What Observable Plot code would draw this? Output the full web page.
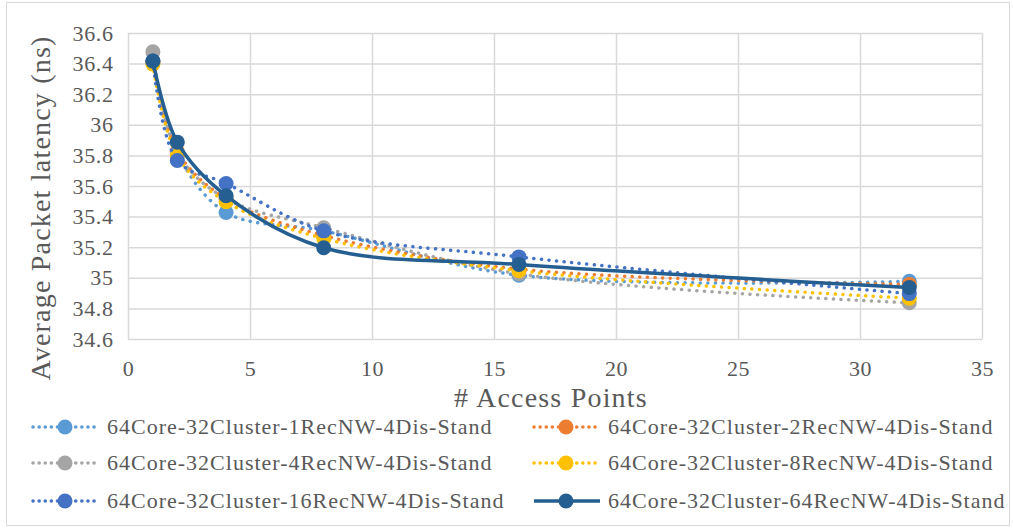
<!DOCTYPE html>
<html><head><meta charset="utf-8">
<script src="https://cdn.jsdelivr.net/npm/d3@7"></script>
<script src="https://cdn.jsdelivr.net/npm/@observablehq/plot@0.6"></script>
<style>
body{margin:0;background:#fff;}
#wrap{position:relative;width:1013px;height:529px;overflow:hidden;font-family:'Liberation Serif','Times New Roman',Times,'DejaVu Serif',serif;color:#595959;background:#fff;}
#wrap svg text{font-family:'Liberation Serif','Times New Roman',Times,'DejaVu Serif',serif;}
#chart svg text{letter-spacing:0.6px;}
#frame{position:absolute;left:6px;top:2px;width:1004px;height:524px;border:1px solid #d9d9d9;box-sizing:border-box;pointer-events:none}
#chart{position:absolute;left:0;top:0;}
#ylab{position:absolute;left:41px;top:208px;transform:translate(-50%,-50%) rotate(-90deg);font-size:28px;letter-spacing:1.2px;white-space:nowrap;}
#xlab{position:absolute;left:551px;top:398px;transform:translate(-50%,-50%);font-size:28px;letter-spacing:1.2px;white-space:nowrap;}
.item{position:absolute;display:flex;align-items:center;font-size:22px;letter-spacing:1px;white-space:nowrap;transform:translateY(-50%);}
.item svg{margin-right:6px;}
</style></head>
<body>
<div id="wrap">
  <div id="chart"></div>
  <div id="ylab">Average Packet latency (ns)</div>
  <div id="xlab"># Access Points</div>
  <div id="legend"></div>
  <div id="frame"></div>
</div>
<script>
const accessPoints = [1, 2, 4, 8, 16, 32];
const seriesNames = [
  "64Core-32Cluster-1RecNW-4Dis-Stand",
  "64Core-32Cluster-2RecNW-4Dis-Stand",
  "64Core-32Cluster-4RecNW-4Dis-Stand",
  "64Core-32Cluster-8RecNW-4Dis-Stand",
  "64Core-32Cluster-16RecNW-4Dis-Stand",
  "64Core-32Cluster-64RecNW-4Dis-Stand"
];
const rec1  = [36.41, 35.82, 35.43, 35.31, 35.02, 34.98];
const rec2  = [36.41, 35.83, 35.52, 35.28, 35.06, 34.96];
const rec4  = [36.48, 35.82, 35.52, 35.33, 35.03, 34.84];
const rec8  = [36.40, 35.80, 35.50, 35.26, 35.05, 34.87];
const rec16 = [36.42, 35.77, 35.62, 35.31, 35.14, 34.90];
const rec64 = [36.42, 35.89, 35.54, 35.20, 35.09, 34.94];
const xTicks = [0, 5, 10, 15, 20, 25, 30, 35];
const yTicks = [34.6, 34.8, 35, 35.2, 35.4, 35.6, 35.8, 36, 36.2, 36.4, 36.6];

const seriesValues = [rec1, rec2, rec4, rec8, rec16, rec64];
const colors = ["#5B9BD5", "#ED7D31", "#A5A5A5", "#FFC000", "#4472C4", "#255E91"];
const dotted = [true, true, true, true, true, false];

const rows = seriesNames.map((name, i) => accessPoints.map((x, j) => ({series: name, x, y: seriesValues[i][j]})));

const fmt = d => String(+(+d).toFixed(1));

const marks = [
  Plot.gridX(xTicks, {stroke: "#d9d9d9", strokeOpacity: 1, strokeWidth: 1.5}),
  Plot.gridY(yTicks, {stroke: "#d9d9d9", strokeOpacity: 1, strokeWidth: 1.5}),
  Plot.axisY(yTicks, {tickSize: 0, tickPadding: 15, tickFormat: fmt, fontSize: 22}),
  Plot.axisX(xTicks, {tickSize: 0, tickPadding: 21, tickFormat: fmt, fontSize: 22})
];
rows.forEach((r, i) => {
  marks.push(Plot.line(r, {
    x: "x", y: "y", stroke: colors[i], strokeWidth: 3.5,
    curve: "catmull-rom",
    strokeDasharray: dotted[i] ? "0.1 7.5" : null,
    strokeLinecap: "round"
  }));
  marks.push(Plot.dot(r, {x: "x", y: "y", r: 7.5, fill: colors[i], stroke: "none"}));
});

const chart = Plot.plot({
  width: 1013,
  height: 410,
  marginLeft: 128,
  marginRight: 31,
  marginTop: 33,
  marginBottom: 71,
  x: {domain: [0, 35], label: null, axis: null},
  y: {domain: [34.6, 36.6], label: null, axis: null},
  style: {fontFamily: "'Liberation Serif','Times New Roman',Times,serif", color: "#595959", background: "transparent", overflow: "visible"},
  marks
});
document.getElementById("chart").appendChild(chart);

// legend
const legend = document.getElementById("legend");
const colLeft = [31, 532];
const rowTop = [427, 463, 501];
seriesNames.forEach((name, i) => {
  const div = document.createElement("div");
  div.className = "item";
  div.style.left = colLeft[i % 2] + "px";
  div.style.top = rowTop[Math.floor(i / 2)] + "px";
  const dash = dotted[i] ? 'stroke-dasharray="0.1 6" stroke-linecap="round"' : '';
  div.innerHTML = `<svg width="70" height="20"><line x1="2" y1="10" x2="68" y2="10" stroke="${colors[i]}" stroke-width="3.5" ${dash}/><circle cx="34" cy="10" r="7.5" fill="${colors[i]}"/></svg><span>${name}</span>`;
  legend.appendChild(div);
});
</script>
</body></html>
